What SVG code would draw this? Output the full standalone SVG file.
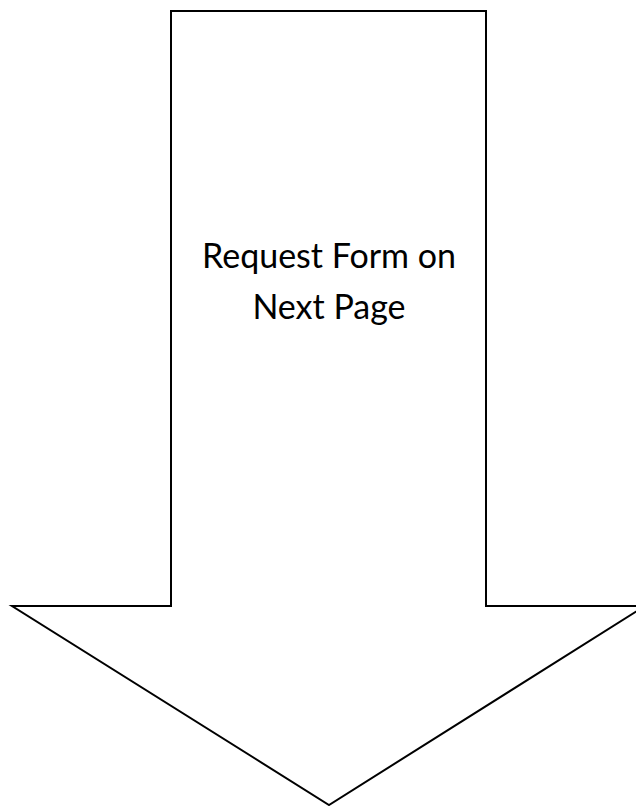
<svg xmlns="http://www.w3.org/2000/svg" width="636" height="806" viewBox="0 0 636 806">
<style>
.shape{fill:#ffffff;stroke:#000000;stroke-width:2;stroke-linejoin:miter}
.lbl{font-family:"Lato","Open Sans","Liberation Sans",sans-serif;font-size:34px;fill:#000000;text-anchor:middle}
</style>
<rect width="636" height="806" fill="#ffffff"/>
<g id="arrow">
<polygon class="shape" points="171,11 486,11 486,606 645,606 329,805 12,606 171,606"/>
<text class="lbl" x="329" y="268">Request Form on</text>
<text class="lbl" x="329" y="319">Next Page</text>
</g>
<g id="connectors"/>
</svg>
